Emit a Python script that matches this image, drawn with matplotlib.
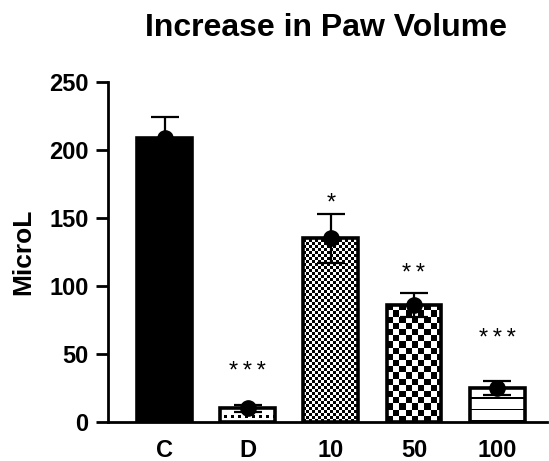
import numpy as np
import matplotlib
matplotlib.use("Agg")
import matplotlib.pyplot as plt

categories = ["C", "D", "10", "50", "100"]
means = [209, 10, 135, 86, 25]
errors = [15, 2.5, 18, 9, 5]
sig_labels = ["", "*\u2009*\u2009*", "*", "*\u2009*", "*\u2009*\u2009*"]
sig_y = [None, 37, 161, 109, 61]
patterns = ["solid", "dots", "fine_check", "coarse_check", "hlines"]

plt.rcParams['font.family'] = ['Liberation Sans', 'DejaVu Sans']

W, H = 549, 461
fig = plt.figure(figsize=(W / 100, H / 100), dpi=100)
ax = fig.add_axes([108 / W, (H - 422) / H, (547 - 108) / W, (422 - 82) / H])

x = np.arange(len(categories))
bw = 0.66
xlim = (-0.68, 4.6)
ylim = (0, 250)
px_x = (547 - 108) / (xlim[1] - xlim[0])   # pixels per x unit
px_y = (422 - 82) / (ylim[1] - ylim[0])    # pixels per y unit

bars = ax.bar(x, means, width=bw, color="white", edgecolor="none",
              linewidth=0, zorder=2)

def fill_pattern(bar, kind):
    x0 = bar.get_x()
    w = bar.get_width()
    h = bar.get_height()
    if kind == "solid":
        bar.set_facecolor("black")
        return
    if kind in ("fine_check", "coarse_check"):
        cell = 3.0 if kind == "fine_check" else 6.2
        cx = cell / px_x
        cy = cell / px_y
        nc = int(np.ceil(w / cx))
        nr = int(np.ceil(h / cy))
        ii, jj = np.indices((nr, nc))
        img = ((ii + jj) % 2).astype(float)
        img = img[::-1]
        extent = [x0, x0 + nc * cx, 0, nr * cy]
    elif kind == "hlines":
        step = 11.5 / px_y
        sub = 6
        nr = int(np.ceil(h / step)) * sub
        img = np.ones((nr, 1))
        img[np.arange(nr) % sub == 0] = 0
        img = img[::-1]
        extent = [x0, x0 + w, 0, nr / sub * step]
    elif kind == "dots":
        cell = 3.5
        cx = cell / px_x
        cy = cell / px_y
        nc = int(np.ceil(w / cx))
        nr = int(np.ceil(h / cy))
        img = np.ones((nr, nc))
        for r in range(nr):
            if r % 3 == 1:
                img[nr - 1 - r, 1::2] = 0
        extent = [x0, x0 + nc * cx, 0, nr * cy]
    im = ax.imshow(img, extent=extent, cmap="gray", vmin=0, vmax=1,
                   interpolation="nearest", aspect="auto", zorder=2.5,
                   origin="upper")
    im.set_clip_path(bar)

for b, k in zip(bars, patterns):
    fill_pattern(b, k)

# bar outlines on top of pattern
ax.bar(x, means, width=bw, color="none", edgecolor="black", linewidth=2.6, zorder=3)

ax.errorbar(x, means, yerr=errors, fmt="none", ecolor="black", elinewidth=1.6,
            capsize=10, capthick=1.6, zorder=4)
ax.plot(x, means, "o", color="black", markersize=11, zorder=5)

for xi, lab, yy in zip(x, sig_labels, sig_y):
    if lab:
        ax.text(xi, yy, lab, ha="center", va="center", fontsize=17,
                color="black")

ax.set_xlim(*xlim)
ax.set_ylim(*ylim)
ax.set_yticks([0, 50, 100, 150, 200, 250])
ax.set_xticks(x)
ax.set_xticklabels(categories)
for s in ("top", "right"):
    ax.spines[s].set_visible(False)
for s in ("left", "bottom"):
    ax.spines[s].set_linewidth(2.0)
ax.tick_params(axis="y", length=9, width=2.0, pad=5, labelsize=17)
ax.tick_params(axis="x", length=0, pad=12, labelsize=17)
for lab in ax.get_xticklabels() + ax.get_yticklabels():
    lab.set_fontweight("bold")

fig.text(23 / W, 1 - 252 / H, "MicroL", rotation=90, ha="center", va="center",
         fontsize=19, fontweight="bold")
fig.text(326 / W, 1 - 28 / H, "Increase in Paw Volume", ha="center", va="center",
         fontsize=23, fontweight="bold")

fig.savefig("out.png", dpi=100)
